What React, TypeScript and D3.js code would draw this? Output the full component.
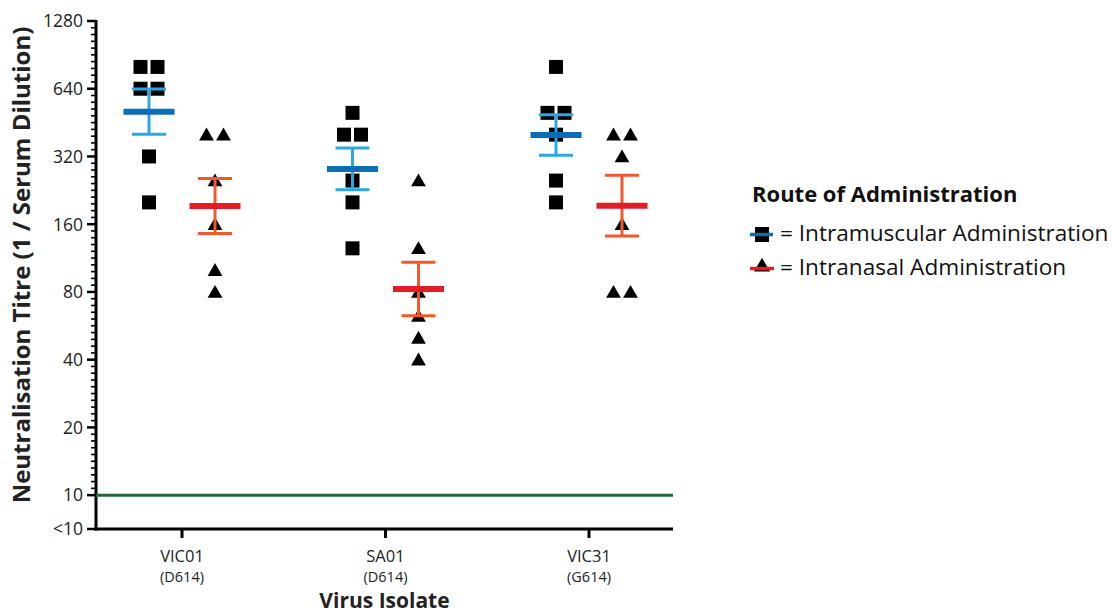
import React from "react";
import * as d3 from "d3";

// titre values (1 / serum dilution)
const categories = ["VIC01", "SA01", "VIC31"];
const variants = ["(D614)", "(D614)", "(G614)"];
const routes = ["Intramuscular", "Intranasal"];
const intramuscular = [
  [800, 800, 640, 640, 320, 200],
  [500, 400, 400, 250, 200, 125],
  [800, 500, 500, 400, 250, 200],
];
const intranasal = [
  [400, 400, 250, 160, 100, 80],
  [250, 125, 80, 62.5, 50, 40],
  [400, 400, 320, 160, 80, 80],
];
const yTicks = [1280, 640, 320, 160, 80, 40, 20, 10];
const limitOfDetection = 10;

const width = 1112;
const height = 614;
const font = "'Open Sans', Lato, sans-serif";

const colors = {
  Intramuscular: { mean: "#0b6db4", err: "#29a9e0" },
  Intranasal: { mean: "#e31d25", err: "#f1592a" },
};

// geometric mean +/- SEM (in log2 space)
function geoStats(vals: number[]) {
  const logs = vals.map((v) => Math.log2(v));
  const m = d3.mean(logs) as number;
  const sem = (d3.deviation(logs) as number) / Math.sqrt(logs.length);
  return { mean: 2 ** m, lo: 2 ** (m - sem), hi: 2 ** (m + sem) };
}

// spread identical values side by side
function spread(vals: number[]) {
  const counts = d3.rollup(vals, (v) => v.length, (d) => d);
  const seen = new Map<number, number>();
  return vals.map((v) => {
    const k = counts.get(v) as number;
    const i = seen.get(v) || 0;
    seen.set(v, i + 1);
    return { v, off: (i - (k - 1) / 2) * 17 };
  });
}

const square = d3.symbol(d3.symbolSquare, 196)();
const triangle = d3.symbol(d3.symbolTriangle, 95)();

export default function App() {
  const y = d3.scaleLog().base(2).domain([limitOfDetection / Math.SQRT2, 1280]).range([529, 21]);
  const x = d3.scalePoint().domain(categories).range([182, 589]);
  const xg = d3.scalePoint().domain(routes).range([-33, 33]);
  const axisLeft = 96;
  const axisRight = 673;

  // minor ticks: 9 between each doubling
  const minor: number[] = [];
  for (let i = 0; i < yTicks.length - 1; i++) {
    for (let j = 1; j < 10; j++) minor.push(yTicks[i] / 2 ** (j / 10));
  }

  const groups = routes.map((r) => ({
    route: r,
    data: r === "Intramuscular" ? intramuscular : intranasal,
  }));

  return (
    <svg width={width} height={height} style={{ position: "absolute", left: 0, top: 0, background: "#fff" }} fontFamily={font}>
      {/* y axis */}
      <line x1={axisLeft} x2={axisLeft} y1={y(1280) - 1} y2={y.range()[0] + 1.5} stroke="#000" strokeWidth={3} />
      {minor.map((v, i) => (
        <line key={"m" + i} x1={axisLeft - 5} x2={axisLeft} y1={y(v)} y2={y(v)} stroke="#000" strokeWidth={1.6} />
      ))}
      {yTicks.map((t) => (
        <g key={t}>
          <line x1={axisLeft - 9} x2={axisLeft} y1={y(t)} y2={y(t)} stroke="#000" strokeWidth={2.5} />
          <text x={axisLeft - 13} y={y(t)} dy="0.36em" textAnchor="end" fontSize={17.5} fill="#222">{t}</text>
        </g>
      ))}
      <line x1={axisLeft - 9} x2={axisLeft} y1={y.range()[0]} y2={y.range()[0]} stroke="#000" strokeWidth={2.5} />
      <text x={axisLeft - 13} y={y.range()[0]} dy="0.36em" textAnchor="end" fontSize={17.5} fill="#222">{"<10"}</text>
      <text transform={`translate(30,265) rotate(-90)`} textAnchor="middle" fontSize={24} fontWeight="bold" fill="#222">
        Neutralisation Titre (1 / Serum Dilution)
      </text>

      {/* limit of detection */}
      <line x1={axisLeft} x2={axisRight} y1={y(limitOfDetection)} y2={y(limitOfDetection)} stroke="#1b6b3e" strokeWidth={3} />

      {/* x axis */}
      <line x1={axisLeft - 1.5} x2={axisRight} y1={y.range()[0]} y2={y.range()[0]} stroke="#000" strokeWidth={3} />
      {categories.map((c, i) => (
        <g key={c}>
          <line x1={x(c)} x2={x(c)} y1={y.range()[0]} y2={y.range()[0] + 9} stroke="#000" strokeWidth={3} />
          <text x={x(c)} y={562} textAnchor="middle" fontSize={16.5} fill="#222">{c}</text>
          <text x={x(c)} y={582} textAnchor="middle" fontSize={14.5} fill="#222">{variants[i]}</text>
        </g>
      ))}
      <text x={(axisLeft + axisRight) / 2} y={608} textAnchor="middle" fontSize={21} fontWeight="bold" fill="#222">
        Virus Isolate
      </text>

      {/* points */}
      {groups.map((g) =>
        g.data.map((vals, ci) => {
          const cx = (x(categories[ci]) as number) + (xg(g.route) as number);
          return spread(vals).map((p, k) => (
            <path
              key={g.route + ci + "-" + k}
              d={g.route === "Intramuscular" ? square : triangle}
              transform={`translate(${cx + p.off},${y(p.v) + (g.route === "Intranasal" ? 1.5 : 0)})`}
              fill="#000"
            />
          ));
        })
      )}

      {/* geometric mean with SEM */}
      {groups.map((g) =>
        g.data.map((vals, ci) => {
          const cx = (x(categories[ci]) as number) + (xg(g.route) as number);
          const s = geoStats(vals);
          const c = colors[g.route as keyof typeof colors];
          return (
            <g key={"s" + g.route + ci}>
              <line x1={cx} x2={cx} y1={y(s.hi)} y2={y(s.lo)} stroke={c.err} strokeWidth={3} />
              <line x1={cx - 17} x2={cx + 17} y1={y(s.hi)} y2={y(s.hi)} stroke={c.err} strokeWidth={3} />
              <line x1={cx - 17} x2={cx + 17} y1={y(s.lo)} y2={y(s.lo)} stroke={c.err} strokeWidth={3} />
              <line x1={cx - 25.5} x2={cx + 25.5} y1={y(s.mean)} y2={y(s.mean)} stroke={c.mean} strokeWidth={6} />
            </g>
          );
        })
      )}

      {/* legend */}
      <g transform="translate(752,0)">
        <text x={0} y={202} fontSize={22} fontWeight="bold" fill="#111">Route of Administration</text>
        <rect x={3} y={227} width={14} height={15} fill="#000" />
        <line x1={-2} x2={21} y1={234.5} y2={234.5} stroke={colors.Intramuscular.mean} strokeWidth={3.5} />
        <text x={28} y={241} fontSize={22.6} fill="#111">= Intramuscular Administration</text>
        <path d={d3.symbol(d3.symbolTriangle, 110)()} transform="translate(10,267)" fill="#000" />
        <line x1={-2} x2={22} y1={268.5} y2={268.5} stroke={colors.Intranasal.mean} strokeWidth={3.5} />
        <text x={28} y={275} fontSize={22.6} fill="#111">= Intranasal Administration</text>
      </g>
    </svg>
  );
}
